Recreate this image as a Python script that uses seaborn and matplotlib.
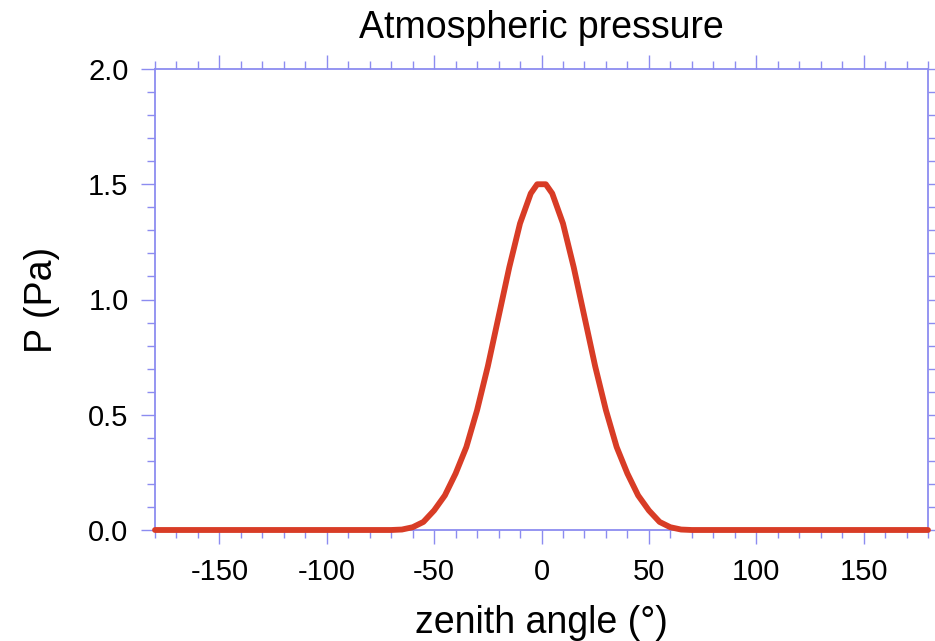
import numpy as np
import pandas as pd
import matplotlib
matplotlib.use("Agg")
import matplotlib.pyplot as plt
from matplotlib.ticker import MultipleLocator
import seaborn as sns

# values
zenith_deg = [-180, -120, -80, -70, -65, -60, -55, -50, -45, -40, -35, -30, -25,
              -20, -15, -10, -5, -2, 2, 5, 10, 15, 20, 25, 30, 35, 40, 45, 50,
              55, 60, 65, 70, 80, 120, 180]
pressure_pa = [0.0, 0.0, 0.0, 0.0, 0.002, 0.012, 0.035, 0.085, 0.15, 0.245, 0.36,
               0.52, 0.71, 0.925, 1.14, 1.33, 1.46, 1.5, 1.5, 1.46, 1.33, 1.14,
               0.925, 0.71, 0.52, 0.36, 0.245, 0.15, 0.085, 0.035, 0.012, 0.002,
               0.0, 0.0, 0.0, 0.0]

x_ticks = [-150, -100, -50, 0, 50, 100, 150]
y_ticks = [0.0, 0.5, 1.0, 1.5, 2.0]

df = pd.DataFrame({"zenith": zenith_deg, "P": pressure_pa})

sns.set_style("white")
plt.rcParams['font.family'] = ['Liberation Sans', 'DejaVu Sans']
plt.rcParams['axes.unicode_minus'] = False
plt.rcParams['text.color'] = 'black'
plt.rcParams['axes.labelcolor'] = 'black'
plt.rcParams['xtick.labelcolor'] = 'black'
plt.rcParams['ytick.labelcolor'] = 'black'

axis_col = "#8c8cf0"
line_col = "#d83c26"

fig, ax = plt.subplots(figsize=(9.35, 6.41), dpi=100)
fig.subplots_adjust(left=155/935, right=928/935, top=1 - 69/641, bottom=1 - 530/641)

sns.lineplot(data=df, x="zenith", y="P", ax=ax, color=line_col, linewidth=4.2,
             clip_on=False, zorder=5)

ax.set_xlim(-180, 180)
ax.set_ylim(0, 2.0)
ax.set_xticks(x_ticks)
ax.set_yticks(y_ticks)
ax.set_xticklabels([str(v) for v in x_ticks])
ax.set_yticklabels([f"{v:.1f}" for v in y_ticks])
ax.xaxis.set_minor_locator(MultipleLocator(10))
ax.yaxis.set_minor_locator(MultipleLocator(0.1))

for s in ax.spines.values():
    s.set_color(axis_col)
    s.set_linewidth(1.3)

ax.tick_params(which="both", direction="out", color=axis_col, width=1.0,
               top=True, right=True, bottom=True, left=True,
               labeltop=False, labelright=False, labelcolor="black")
ax.tick_params(which="major", length=10, labelsize=21)
ax.tick_params(which="minor", length=5.5)
ax.tick_params(axis="x", which="major", pad=10)
ax.tick_params(axis="y", which="major", pad=9)

ax.set_title("Atmospheric pressure", fontsize=27, pad=22, color="black")
ax.set_xlabel("zenith angle (°)", fontsize=27, labelpad=14, color="black")
ax.set_ylabel("P (Pa)", fontsize=27, labelpad=20, color="black")

plt.savefig("out.png", dpi=100)
